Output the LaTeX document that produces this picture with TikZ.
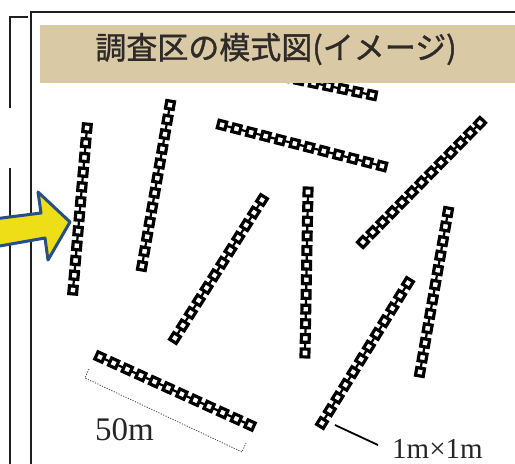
\documentclass[tikz,border=0pt]{standalone}
\usepackage{fontspec}
\setmainfont{Liberation Serif}
\newfontfamily\jpfont[FakeBold=1.2]{Noto Sans CJK JP}
\definecolor{bandtan}{RGB}{218,201,165}
\definecolor{titlegray}{RGB}{45,42,40}
\definecolor{arrowyellow}{RGB}{238,222,24}
\definecolor{arrowblue}{RGB}{38,78,135}
\definecolor{framegray}{RGB}{30,30,30}
\begin{document}
\begin{tikzpicture}[x=1pt,y=-1pt,
  frame/.style={draw=framegray,line width=1.5pt},
  band/.style={fill=bandtan,draw=none,inner sep=0pt,minimum width=475pt,minimum height=58pt,anchor=north west},
  titletext/.style={font=\jpfont\fontsize{31}{36}\selectfont,text=titlegray,inner sep=0pt},
  chainlink/.style={draw=black,line width=2.2pt},
  sq/.style={draw=black,fill=white,line width=3.2pt,minimum size=7.8pt,inner sep=0pt,shape=rectangle},
  dimline/.style={draw=black!70,line width=0.8pt,dash pattern=on 1.2pt off 1.4pt},
  leader/.style={draw=black,line width=1.8pt},
  lab/.style={font=\fontsize{29}{32}\selectfont,text=black!85,inner sep=0pt,anchor=base west},
  bigarrow/.style={fill=arrowyellow,draw=arrowblue,line width=3pt,line join=round}]
\useasboundingbox (0,0) rectangle (515,464);
\fill[white] (0,0) rectangle (515,464);

% chains of 1m x 1m quadrats
\foreach \id/\ax/\ay/\bx/\by/\n in {
  1/87/128/73/290/12,
  2/170/105/142/266/12,
  3/212/62/372/95/12,
  4/222/125/382/166/12,
  5/480/123/363/242/13,
  6/262/200/175/338/12,
  7/308/192/305/353/12,
  8/448/212/420/372/12,
  9/408/283/322/423/12,
  10/100/357/250/425/12} {
  \coordinate (s\id) at (\ax,\ay);
  \coordinate (e\id) at (\bx,\by);
  \draw[chainlink] (s\id) -- (e\id);
  \foreach \k in {1,...,\n} {
    \pgfmathsetmacro\p{(\k-1)/(\n-1)}
    \path (s\id) -- (e\id) node[sq,sloped,pos=\p] (q\id-\k) {};
  }
}

% title band (covers part of chain 3)
\node[band] (band) at (40,25) {};
\node[titletext] (title) at (276,49) {調査区の模式図(イメージ)};

% frame lines
\draw[frame] (31,464) -- (31,12) -- (515,12);
\draw[frame] (28,17) -- (10,17) -- (10,108);
\draw[frame] (10,168) -- (10,464);

% arrow
\draw[bigarrow] (-6,219) -- (41,213) -- (38,192) -- (70,222) -- (48,260) -- (45,238) -- (-6,247) -- cycle;

% 50m dimension
\coordinate (d1) at (89,369);
\coordinate (d2) at (85,378);
\coordinate (d3) at (242,452);
\coordinate (d4) at (246,443);
\draw[dimline] (d1) -- (d2) -- (d3) -- (d4);
\node[lab,font=\fontsize{33}{36}\selectfont] (l50) at (95,440) {50m};

% 1m x 1m leader
\coordinate (la) at (335,425);
\coordinate (lb) at (378,445);
\draw[leader] (la) -- (lb);
\node[lab] (l1) at (392,458) {1m×1m};
\end{tikzpicture}
\end{document}
